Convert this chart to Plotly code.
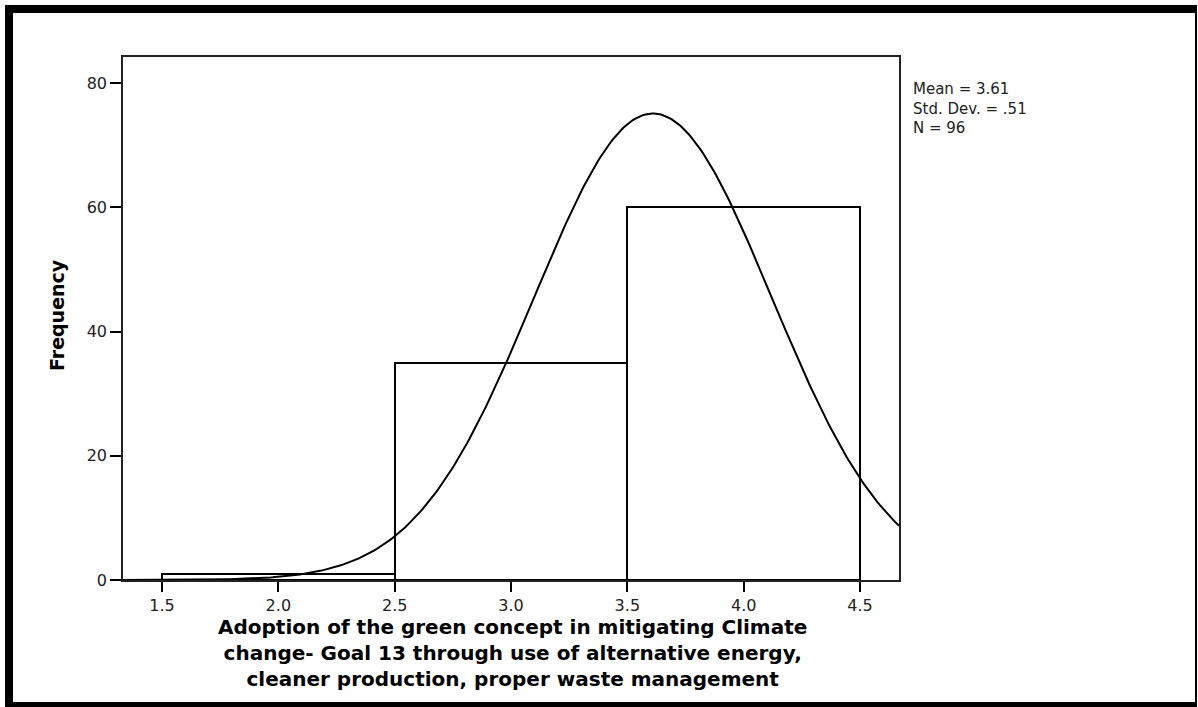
import numpy as np
import plotly.graph_objects as go

# Data
bin_centers = [2.0, 3.0, 4.0]
frequencies = [1, 35, 60]
bin_width = 1.0
mean_val = 3.61
std_val = 0.51
n_val = 96
x_ticks = [1.5, 2.0, 2.5, 3.0, 3.5, 4.0, 4.5]
y_ticks = [0, 20, 40, 60, 80]
stats_lines = ["Mean = 3.61", "Std. Dev. = .51", "N = 96"]
x_title_lines = [
    "Adoption of the green concept in mitigating Climate",
    "change- Goal 13 through use of alternative energy,",
    "cleaner production, proper waste management",
]
y_title = "Frequency"

W, H = 1198, 707
L, R, T, B = 123, 899, 57, 580
x_range = [1.3324, 4.6676]
y_range = [0, 84.19]

def px_x(p):
    return (p - L) / (R - L)

def px_y(p):
    return (B - p) / (B - T)

# fitted normal curve from the reported statistics
xc = np.linspace(x_range[0], x_range[1], 400)
yc = n_val * bin_width / (std_val * np.sqrt(2 * np.pi)) * np.exp(-0.5 * ((xc - mean_val) / std_val) ** 2)

fig = go.Figure()
fig.add_trace(go.Bar(
    x=bin_centers, y=frequencies, width=bin_width,
    marker=dict(color="white", line=dict(color="black", width=2)),
    hoverinfo="x+y",
))
fig.add_trace(go.Scatter(
    x=xc, y=yc, mode="lines", line=dict(color="black", width=2),
    hoverinfo="skip",
))

font_main = "DejaVu Sans, Arial, sans-serif"

fig.update_layout(
    width=W, height=H,
    margin=dict(l=L, r=W - R, t=T, b=H - B, pad=0),
    paper_bgcolor="white", plot_bgcolor="white",
    showlegend=False,
    bargap=0,
    xaxis=dict(
        range=x_range, tickvals=x_ticks, ticktext=[f"{v:.1f}" for v in x_ticks],
        ticks="outside", ticklen=10, tickwidth=2, tickcolor="black",
        showline=True, linecolor="#222", linewidth=2, mirror=True,
        showgrid=False, zeroline=False,
        tickfont=dict(family=font_main, size=16, color="#222"),
    ),
    yaxis=dict(
        range=y_range, tickvals=y_ticks,
        ticks="outside", ticklen=11, tickwidth=2, tickcolor="black",
        showline=True, linecolor="#222", linewidth=1.5, mirror=True,
        showgrid=False, zeroline=False,
        tickfont=dict(family=font_main, size=16, color="#222"),
    ),
)

annotations = [
    dict(
        xref="paper", yref="paper", x=px_x(911), y=px_y(108.5),
        xanchor="left", yanchor="middle", align="left",
        text="<br>".join(stats_lines), showarrow=False,
        font=dict(family=font_main, size=15, color="#222"),
    ),
    dict(
        xref="paper", yref="paper", x=px_x(512), y=px_y(653),
        xanchor="center", yanchor="middle", align="center",
        text="<b>" + "<br>".join(x_title_lines) + "</b>", showarrow=False,
        font=dict(family=font_main, size=20, color="black"),
    ),
    dict(
        xref="paper", yref="paper", x=px_x(57), y=px_y(315),
        xanchor="center", yanchor="middle", text=f"<b>{y_title}</b>", showarrow=False,
        textangle=-90, font=dict(family=font_main, size=19, color="black"),
    ),
]
fig.update_layout(annotations=annotations)

# outer black frame
frame = [
    (5, 5, 1197, 13),     # top
    (5, 5, 13, 707),      # left
    (5, 702, 1197, 707),  # bottom
    (1195, 5, 1197, 707), # right
]
shapes = []
for x0, y0, x1, y1 in frame:
    shapes.append(dict(
        type="rect", xref="paper", yref="paper",
        x0=px_x(x0), x1=px_x(x1), y0=px_y(y1), y1=px_y(y0),
        fillcolor="black", line=dict(width=0), layer="above",
    ))
fig.update_layout(shapes=shapes)

fig.write_html("out.html")
